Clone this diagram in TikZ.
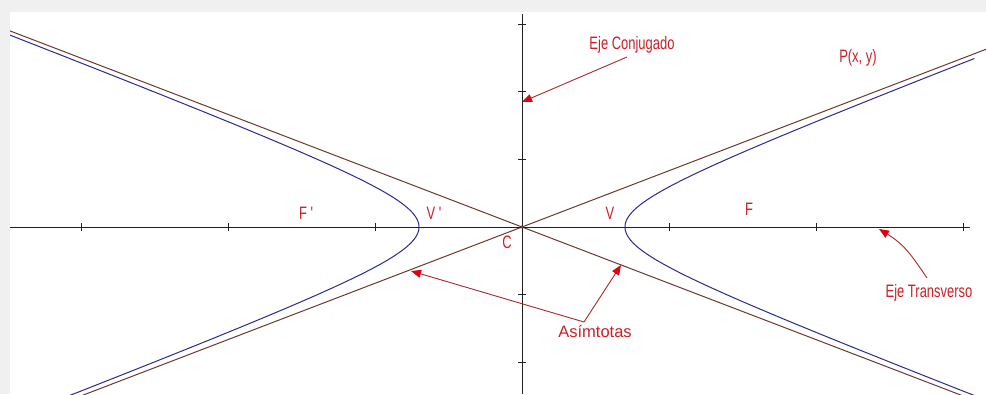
\documentclass[tikz,border=0pt]{standalone}
\usepackage{fontspec}
\setmainfont{Liberation Sans}
\newfontfamily\narrowfont[FakeStretch=0.72]{Liberation Sans}
\usetikzlibrary{arrows.meta}
\definecolor{bggray}{HTML}{F0F0F0}
\definecolor{asym}{HTML}{6B3A2E}
\definecolor{hyp}{HTML}{2A2A90}
\definecolor{axis}{HTML}{202020}
\definecolor{lab}{HTML}{CC1F26}
\definecolor{arr}{HTML}{A8282C}
\definecolor{arrhead}{HTML}{E00010}
\tikzset{
  lbl/.style={text=lab, inner sep=0pt, font=\narrowfont\fontsize{18}{18}\selectfont},
  lblwide/.style={text=lab, inner sep=0pt, font=\fontsize{16.5}{16.5}\selectfont},
  pointer/.style={draw=arr, line width=0.9pt, -{Triangle[length=10pt,width=8pt,fill=arrhead,color=arrhead]}},
  tick/.style={draw=axis, line width=0.9pt},
}
\begin{document}
\begin{tikzpicture}[x=1pt,y=-1pt]
\useasboundingbox (0,0) rectangle (986,394);
\fill[bggray] (0,0) rectangle (986,394);
\fill[white] (10,12) rectangle (986,394);
\begin{scope}
\clip (10,12) rectangle (986,394);
% asymptotes
\draw[asym, line width=1pt] (10,{227-0.383*512}) -- (986,{227+0.383*464});
\draw[asym, line width=1pt] (10,{227+0.383*512}) -- (986,{227-0.383*464});
% hyperbola
\draw[hyp, line width=1pt] plot[domain=-2.18:2.16, samples=120, smooth] ({522+103*cosh(\x)},{227-39.4*sinh(\x)});
\draw[hyp, line width=1pt] plot[domain=-2.2:2.3, samples=120, smooth] ({522-103*cosh(\x)},{227-39.4*sinh(\x)});
\end{scope}
% axes
\draw[axis, line width=1pt] (10,227) -- (970,227);
\draw[axis, line width=1pt] (522,14) -- (522,394);
\foreach \tx in {81,228,375,669,816,963} \draw[tick] (\tx,223) -- (\tx,231);
\foreach \ty in {24,91,159,294,362} \draw[tick] (518,\ty) -- (526,\ty);
\fill[asym] (522,227) circle (1.7pt);
% labels
\node[lbl] (conj) at (632,45) {Eje Conjugado};
\node[lbl] (P) at (858,58) {P(x, y)};
\node[lbl] (Fp) at (306,213) {F '};
\node[lbl] (Vp) at (434,213) {V '};
\node[lbl] (V) at (610,213) {V};
\node[lbl] (F) at (749,209) {F};
\node[lbl] (C) at (507,242) {C};
\node[lbl] (trans) at (929,293) {Eje Transverso};
\node[lblwide] (asim) at (595,332) {Asímtotas};
% arrows
\coordinate (conjtail) at (627,57);
\coordinate (conjhead) at (522,102);
\draw[pointer] (conjtail) -- (conjhead);
\coordinate (transtail) at (927,278);
\coordinate (transhead) at (879,229);
\draw[pointer] (transtail) .. controls (912,256) and (905,245) .. (transhead);
\coordinate (asimtail) at (584,322);
\coordinate (asimhead1) at (411,271);
\coordinate (asimhead2) at (621,265);
\draw[pointer] (asimtail) -- (asimhead1);
\draw[pointer] (asimtail) -- (asimhead2);
\end{tikzpicture}
\end{document}
